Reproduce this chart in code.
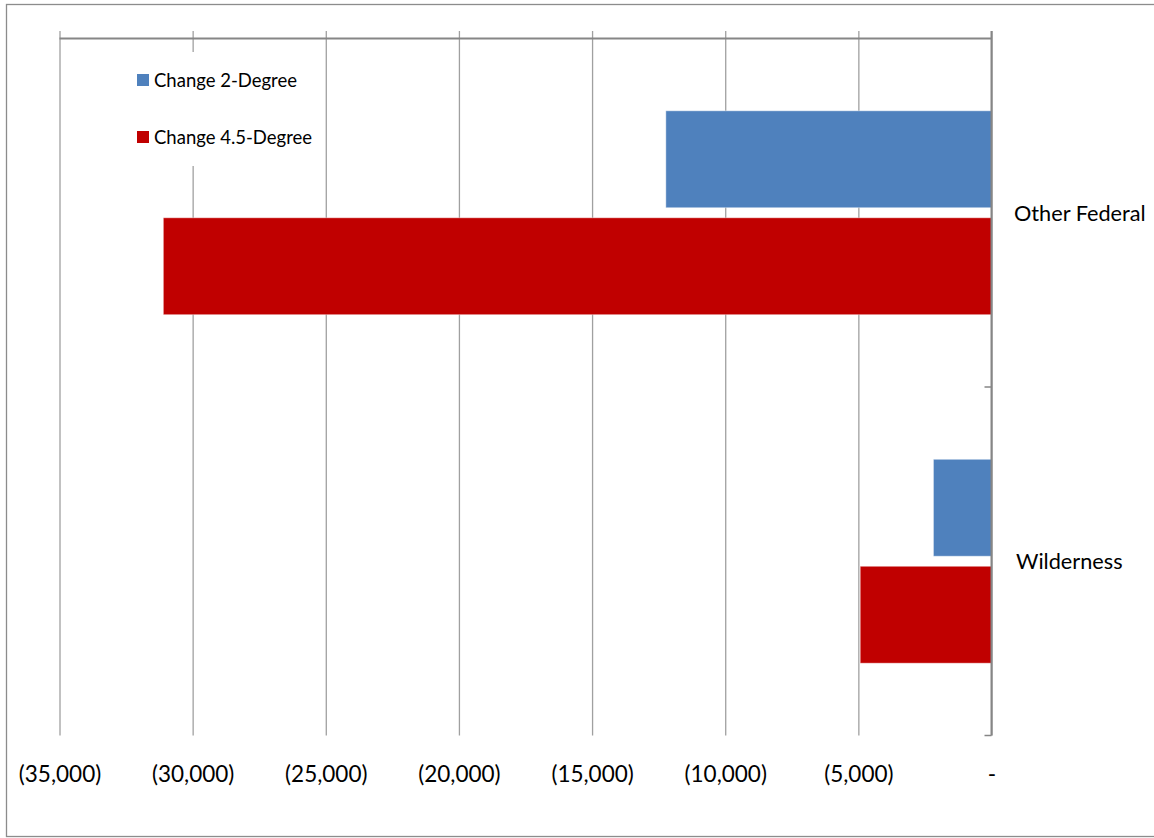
<!DOCTYPE html>
<html>
<head>
<meta charset="utf-8">
<script src="https://cdn.jsdelivr.net/npm/d3@7"></script>
<style>
  body { margin: 0; background: #fff; }
  svg text { font-family: Lato, 'Open Sans', sans-serif; fill: #000; }
</style>
</head>
<body>
<div id="chart"></div>
<script>
// chart data
var categories = ['Other Federal', 'Wilderness']
var seriesNames = ['Change 2-Degree', 'Change 4.5-Degree']
var change2 = [-12230, -2180]
var change45 = [-31100, -4930]
var xTicks = [-35000, -30000, -25000, -20000, -15000, -10000, -5000, 0]
var colors = ['#4f81bd', '#c00000']

var width = 1154
var height = 838
var plot = { left: 59.5, right: 991.5, top: 38.5, bottom: 735.5 }

var svg = d3
  .select('#chart')
  .append('svg')
  .attr('width', width)
  .attr('height', height)

// outer frame
svg
  .append('rect')
  .attr('x', 6.5)
  .attr('y', 4.5)
  .attr('width', 1160)
  .attr('height', 832)
  .attr('fill', '#fff')
  .attr('stroke', '#8c8c8c')
  .attr('stroke-width', 1.3)

var x = d3
  .scaleLinear()
  .domain([-35000, 0])
  .range([plot.left, plot.right])

var y0 = d3
  .scaleBand()
  .domain(categories)
  .range([plot.top, plot.bottom])

var y1 = d3
  .scaleBand()
  .domain(seriesNames)
  .range([0, y0.bandwidth()])
  .paddingInner(0.094)
  .paddingOuter(0.676)

var fmt = d3.format(',')
function tickLabel(d) {
  return d === 0 ? '-' : '(' + fmt(-d) + ')'
}

// gridlines + value labels
var xAxis = svg
  .append('g')
  .attr('transform', 'translate(0,' + plot.bottom + ')')
  .call(
    d3
      .axisBottom(x)
      .tickValues(xTicks)
      .tickSizeInner(-(plot.bottom - 31))
      .tickSizeOuter(0)
      .tickFormat(tickLabel)
  )
xAxis.select('.domain').remove()
xAxis
  .selectAll('.tick line')
  .attr('stroke', '#a0a0a0')
  .attr('stroke-width', 1.3)
xAxis
  .selectAll('.tick text')
  .attr('y', 46)
  .attr('dy', 0)
  .attr('font-size', 22.5)
  .style('font-family', 'Lato, sans-serif')

// top axis line
svg
  .append('line')
  .attr('x1', plot.left)
  .attr('x2', plot.right)
  .attr('y1', plot.top)
  .attr('y2', plot.top)
  .attr('stroke', '#868686')
  .attr('stroke-width', 2)

// bars
var rows = categories.map(function(c, i) {
  return { category: c, values: [change2[i], change45[i]] }
})

var groups = svg
  .selectAll('.cat')
  .data(rows)
  .enter()
  .append('g')
  .attr('class', 'cat')
  .attr('transform', function(d) {
    return 'translate(0,' + y0(d.category) + ')'
  })

groups
  .selectAll('rect')
  .data(function(d) {
    return d.values.map(function(v, j) {
      return { name: seriesNames[j], value: v, color: colors[j] }
    })
  })
  .enter()
  .append('rect')
  .attr('x', function(d) {
    return x(d.value)
  })
  .attr('y', function(d) {
    return y1(d.name)
  })
  .attr('width', function(d) {
    return x(0) - x(d.value)
  })
  .attr('height', y1.bandwidth())
  .attr('fill', function(d) {
    return d.color
  })
  .attr('stroke', '#fff')
  .attr('stroke-opacity', 0.4)
  .attr('stroke-width', 1)

// category axis on the right
svg
  .append('line')
  .attr('x1', plot.right)
  .attr('x2', plot.right)
  .attr('y1', 31)
  .attr('y2', plot.bottom)
  .attr('stroke', '#868686')
  .attr('stroke-width', 2)

var bounds = categories.map(function(c) {
  return y0(c)
})
bounds.push(plot.bottom)
svg
  .selectAll('.cat-tick')
  .data(bounds.slice(1))
  .enter()
  .append('line')
  .attr('x1', plot.right - 7)
  .attr('x2', plot.right)
  .attr('y1', function(d) {
    return d
  })
  .attr('y2', function(d) {
    return d
  })
  .attr('stroke', '#868686')
  .attr('stroke-width', 1.5)

svg
  .selectAll('.cat-label')
  .data(categories)
  .enter()
  .append('text')
  .attr('x', function(c, i) {
    return i === 0 ? 1014 : 1016
  })
  .attr('y', function(c) {
    return y0(c) + y0.bandwidth() / 2 + 8
  })
  .attr('font-size', 21.7)
  .text(function(c) {
    return c
  })

// legend
var legend = svg.append('g')
legend
  .append('rect')
  .attr('x', 120)
  .attr('y', 52)
  .attr('width', 200)
  .attr('height', 114)
  .attr('fill', '#fff')

var items = legend
  .selectAll('.item')
  .data(seriesNames)
  .enter()
  .append('g')
  .attr('transform', function(d, i) {
    return 'translate(137,' + (74 + i * 57) + ')'
  })
items
  .append('rect')
  .attr('width', 12)
  .attr('height', 12)
  .attr('fill', function(d, i) {
    return colors[i]
  })
items
  .append('text')
  .attr('x', 17)
  .attr('y', 12.5)
  .attr('font-size', 18.5)
  .text(function(d) {
    return d
  })
</script>
</body>
</html>
